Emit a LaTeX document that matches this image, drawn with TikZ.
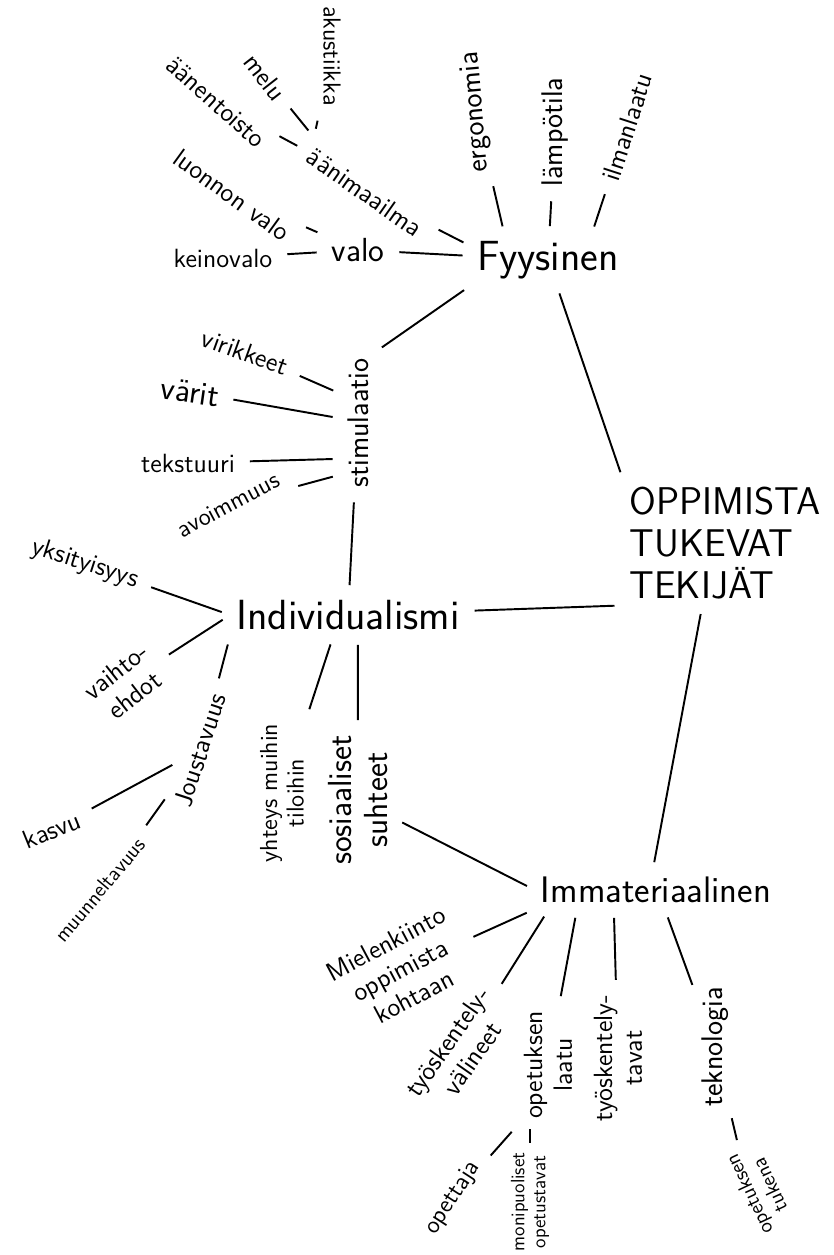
\documentclass[tikz,border=0pt]{standalone}
\usepackage{tikz}

\begin{document}
\begin{tikzpicture}[
    hub/.style={font=\sffamily\fontsize{#1}{24}\selectfont},
    hub/.default=22,
    big/.style={font=\sffamily\fontsize{19}{21}\selectfont, align=center},
    mid/.style={font=\sffamily\fontsize{17}{19}\selectfont, align=center},
    leaf/.style={font=\sffamily\fontsize{15}{17}\selectfont, align=center},
    small/.style={font=\sffamily\fontsize{14}{15}\selectfont, align=center},
    tiny/.style={font=\sffamily\fontsize{12}{13}\selectfont, align=center},
    link/.style={line width=1.1pt, shorten <=5pt, shorten >=5pt}
  ]
    \useasboundingbox (0,0) rectangle (16.68,25.1);

    % main topics
    \draw (14.5,14.24) node[hub,align=left] (core) {OPPIMISTA\\TUKEVAT\\TEKIJÄT};
    \draw (10.96,19.9) node[hub=24] (fyys) {Fyysinen};
    \draw (6.96,12.8) node[hub=24] (indiv) {Individualismi};
    \draw (13.12,7.3) node[hub=21] (immat) {Immateriaalinen};
    \draw[link] (fyys) -- (core.north west);
    \draw[link] (indiv) -- (core.south west);
    \draw[link] (core.250) -- (immat.100);

    % fyysinen
    \draw (9.52,22.86) node[mid,rotate=95] (ergo) {ergonomia};
    \draw (11.1,22.46) node[mid,rotate=90] (lampo) {lämpötila};
    \draw (12.54,22.56) node[leaf,rotate=72] (ilma) {ilmanlaatu};
    \draw (7.3,21.26) node[leaf,rotate=-35] (aani) {äänimaailma};
    \draw (7.16,20.1) node[big] (valo) {valo};
    \draw (7.16,16.64) node[mid,rotate=90] (stim) {stimulaatio};
    \draw[link] (ergo) -- (fyys.150);
    \draw[link] (lampo) -- (fyys);
    \draw[link] (ilma) -- (fyys.30);
    \draw[link] (aani) -- (fyys.170);
    \draw[link] (valo) -- (fyys);
    \draw[link] (stim.south east) -- (fyys.south west);

    \draw (6.64,23.98) node[small,rotate=-90] (akus) {akustiikka};
    \draw (5.3,23.56) node[leaf,rotate=-52] (melu) {melu};
    \draw (4.32,23.06) node[leaf,rotate=-42] (toisto) {äänentoisto};
    \draw[link] (akus) -- (aani.north west);
    \draw[link] (melu) -- (aani.north west);
    \draw[link] (toisto) -- (aani.west);

    \draw (4.64,21.2) node[leaf,rotate=-36] (luonto) {luonnon valo};
    \draw (4.46,19.94) node[leaf] (keino) {keinovalo};
    \draw[link] (luonto) -- (valo);
    \draw[link] (keino) -- (valo);

    % stimulaatio
    \draw (4.9,18.06) node[leaf,rotate=-20] (virik) {virikkeet};
    \draw (3.8,17.26) node[big,rotate=-8] (varit) {värit};
    \draw (3.76,15.84) node[leaf] (teks) {tekstuuri};
    \draw (4.56,15.0) node[small,rotate=28] (avoin) {avoimmuus};
    \draw[link] (virik) -- (stim.30);
    \draw[link] (varit) -- (stim.75);
    \draw[link] (teks) -- (stim.155);
    \draw[link] (avoin) -- (stim.162);
    \draw[link] (stim) -- (indiv);

    % individualismi
    \draw (1.7,13.82) node[leaf,rotate=-18] (yksi) {yksityisyys};
    \draw (2.5,11.44) node[leaf,rotate=38] (vaihto) {vaihto-\\ehdot};
    \draw (4.0,10.1) node[leaf,rotate=72] (jousto) {Joustavuus};
    \draw (5.64,9.24) node[small,rotate=90] (yhteys) {yhteys muihin\\tiloihin};
    \draw (7.16,9.1) node[big,rotate=90] (sosi) {sosiaaliset\\suhteet};
    \draw[link] (yksi) -- (indiv.west);
    \draw[link] (vaihto) -- (indiv.west);
    \draw[link] (jousto) -- (indiv.south west);
    \draw[link] (yhteys) -- (indiv.235);
    \draw[link] (sosi) -- (indiv.295);
    \draw[link] (sosi) -- (immat.west);

    \draw (1.04,8.5) node[leaf,rotate=22] (kasvu) {kasvu};
    \draw (2.0,7.3) node[tiny,rotate=50] (muunn) {muunneltavuus};
    \draw[link] (kasvu) -- (jousto);
    \draw[link] (muunn) -- (jousto);

    % immateriaalinen
    \draw (8.0,5.7) node[leaf,rotate=28] (mielen) {Mielenkiinto\\oppimista\\kohtaan};
    \draw (9.2,4.1) node[leaf,rotate=55] (tyovali) {työskentely-\\välineet};
    \draw (10.96,3.8) node[leaf,rotate=90] (opelaatu) {opetuksen\\laatu};
    \draw (12.36,3.94) node[leaf,rotate=90] (tyotavat) {työskentely-\\tavat};
    \draw (14.3,4.16) node[mid,rotate=90] (tekno) {teknologia};
    \draw[link] (mielen) -- (immat.south west);
    \draw[link] (tyovali) -- ([xshift=-61pt]immat.south);
    \draw[link] (opelaatu) -- ([xshift=-45pt]immat.south);
    \draw[link] (tyotavat) -- ([xshift=-24pt]immat.south);
    \draw[link] (tekno) -- ([xshift=5pt]immat.south);

    \draw (9.06,1.14) node[small,rotate=57] (opettaja) {opettaja};
    \draw (10.6,1.06) node[font=\sffamily\fontsize{11}{12}\selectfont,align=center,rotate=90] (monip) {monipuoliset\\opetustavat};
    \draw (15.18,1.3) node[tiny,rotate=115] (tukena) {opetuksen\\tukena};
    \draw[link] (opettaja) -- (opelaatu.north west);
    \draw[link,shorten <=2pt,shorten >=2pt] (monip) -- (monip |- opelaatu.west);
    \draw[link,shorten <=3pt,shorten >=3pt] (tekno) -- (tukena.east);
  \end{tikzpicture}
\end{document}
